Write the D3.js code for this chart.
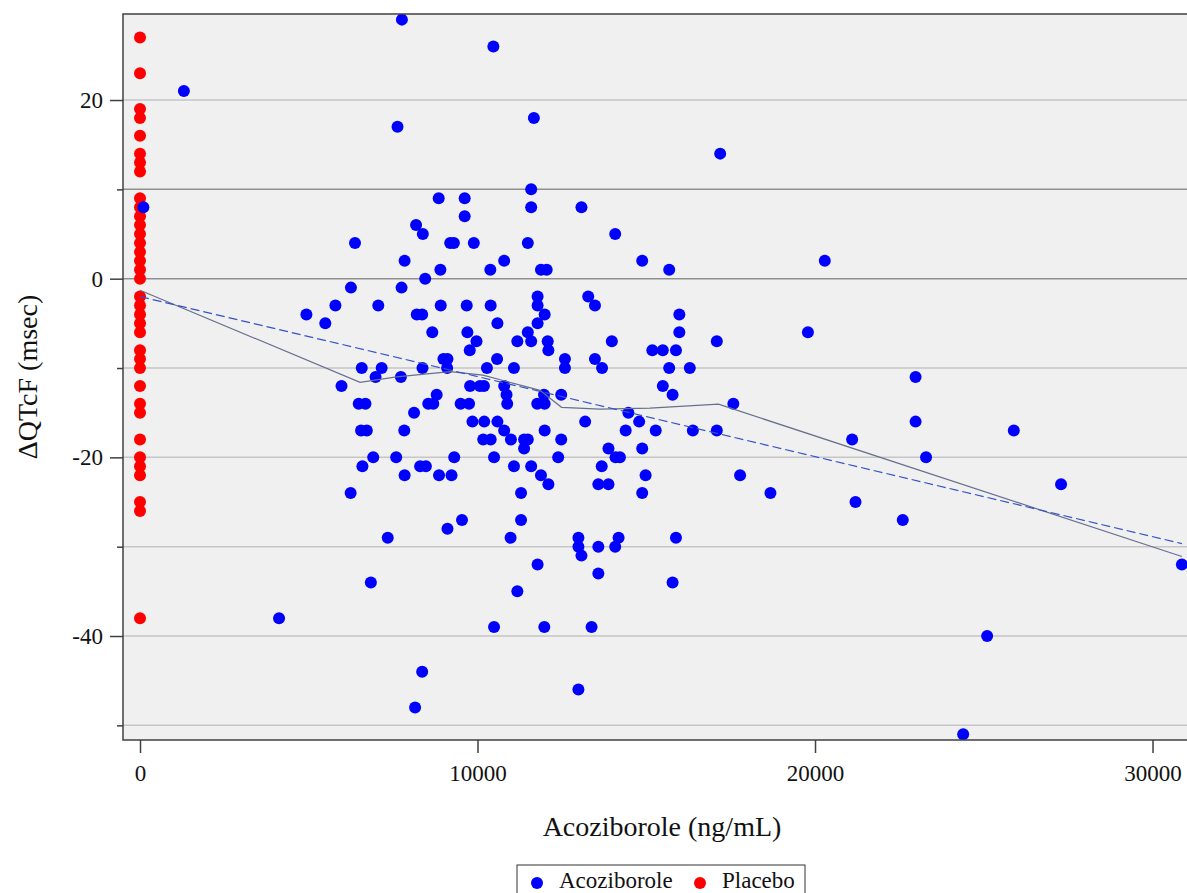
<!DOCTYPE html>
<html>
<head>
<meta charset="utf-8">
<script src="https://cdn.jsdelivr.net/npm/d3@7"></script>
<style>
  body { margin: 0; background: #fff; }
  text { font-family: "Liberation Serif", "Times New Roman", serif; fill: #111; }
</style>
</head>
<body>
<div id="my_dataviz"></div>
<script>
// Placebo: all at concentration 0, only dQTcF values
var placeboY = [27, 23, 19, 18, 16, 14, 13, 12, 9, 8, 7, 6, 5, 4, 3, 2, 1, 0,
    -2, -3, -4, -5, -6, -8, -9, -10, -12, -14, -15, -18, -20, -21, -22, -25, -26, -38];

// Acoziborole concentration (ng/mL)
var acoX = [1300, 7760, 10470, 7630, 11670, 17190, 100, 11590, 11590, 8850,
    9620, 9620, 8180, 8380, 6370, 9190, 9300, 9890, 11490, 7840,
    10790, 8900, 10380, 11880, 12050, 8450, 6250, 7750, 11780, 4930,
    5790, 5490, 7060, 8910, 9680, 10390, 11780, 8200, 8360, 11990,
    10590, 11780, 8660, 9700, 11490, 9970, 11180, 11590, 12080, 9770,
    12100, 8990, 9110, 10580, 9100, 6570, 7160, 8370, 10280, 11080,
    6980, 7730, 5970, 9780, 10070, 10190, 10790, 11970, 8790, 10860,
    6480, 6680, 8540, 8690, 9500, 9750, 10880, 11770, 11990, 8120,
    9850, 10200, 10590, 10790, 6550, 6720, 7830, 11990, 10170, 10390,
    10990, 11380, 11490, 11380, 6910, 7590, 9310, 10490, 6590, 8300,
    8470, 11080, 11590, 7840, 8860, 9230, 11880, 12100, 6240, 11290,
    9540, 11290, 9110, 7340, 10980, 11780, 6840, 11180, 4120, 10490,
    11980, 13080, 14080, 14880, 15680, 13280, 13480, 15980, 15980, 13980,
    17090, 15180, 15490, 15880, 12590, 13480, 12590, 13690, 15680, 16290,
    15490, 15780, 12480, 17580, 14470, 13190, 14790, 14390, 15280, 16380,
    17090, 12480, 13880, 14880, 12390, 14090, 14220, 13680, 14980, 17780,
    13580, 13880, 14880, 18680, 12990, 14180, 15880, 12990, 13580, 14080,
    13080, 13580, 15780, 13380, 12990, 8150, 8360, 20290, 19790, 22980,
    22980, 21100, 25890, 23290, 21200, 22600, 27290, 30870, 25100, 24390];

// Acoziborole dQTcF (msec), same order as acoX
var acoY = [21, 29, 26, 17, 18, 14, 8, 10, 8, 9,
    9, 7, 6, 5, 4, 4, 4, 4, 4, 2,
    2, 1, 1, 1, 1, 0, -1, -1, -2, -4,
    -3, -5, -3, -3, -3, -3, -3, -4, -4, -4,
    -5, -5, -6, -6, -6, -7, -7, -7, -7, -8,
    -8, -9, -9, -9, -10, -10, -10, -10, -10, -10,
    -11, -11, -12, -12, -12, -12, -12, -13, -13, -13,
    -14, -14, -14, -14, -14, -14, -14, -14, -14, -15,
    -16, -16, -16, -17, -17, -17, -17, -17, -18, -18,
    -18, -18, -18, -19, -20, -20, -20, -20, -21, -21,
    -21, -21, -21, -22, -22, -22, -22, -23, -24, -24,
    -27, -27, -28, -29, -29, -32, -34, -35, -38, -39,
    -39, 8, 5, 2, 1, -2, -3, -4, -6, -7,
    -7, -8, -8, -8, -9, -9, -10, -10, -10, -10,
    -12, -13, -13, -14, -15, -16, -16, -17, -17, -17,
    -17, -18, -19, -19, -20, -20, -20, -21, -22, -22,
    -23, -23, -24, -24, -29, -29, -29, -30, -30, -30,
    -31, -33, -34, -39, -46, -48, -44, 2, -6, -11,
    -16, -18, -17, -20, -25, -27, -23, -32, -40, -51];

// Smoothed (loess) curve nodes and linear fit end points
var smoothX = [0, 6520, 7600, 9190, 10160, 10760, 11850, 12490, 13630, 15110, 17140, 30870];
var smoothY = [-1.3, -11.6, -11.0, -10.4, -10.8, -11.4, -12.5, -14.4, -14.6, -14.5, -14.05, -31.1];
var fitX = [0, 30870];
var fitY = [-2.0, -29.65];

// Axis ticks
var yMajorTicks = [20, 0, -20, -40];
var yMinorTicks = [10, -10, -30, -50];
var xTicks = [0, 10000, 20000, 30000];

var seriesNames = ["Acoziborole", "Placebo"];
var seriesColors = ["#0000ff", "#ff0000"];

// Set the dimensions and margins of the graph
var margin = {top: 14, right: -13, bottom: 153, left: 123},
    width = 1187 - margin.left - margin.right,
    height = 893 - margin.top - margin.bottom;

var svgRoot = d3.select("#my_dataviz")
  .append("svg")
    .attr("width", 1187)
    .attr("height", 893);

var svg = svgRoot.append("g")
    .attr("transform", "translate(" + margin.left + "," + margin.top + ")");

// Scales
var x = d3.scaleLinear()
    .domain([-504, 31407])
    .range([0, width]);
var y = d3.scaleLinear()
    .domain([-51.64, 29.63])
    .range([height, 0]);

// Plot background
svg.append("rect")
    .attr("width", width)
    .attr("height", height)
    .attr("fill", "#f0f0f0");

svg.append("clipPath").attr("id", "clip")
  .append("rect").attr("width", width).attr("height", height);

// Grid lines
var gridTicks = yMajorTicks.concat(yMinorTicks);
svg.append("g").selectAll("line")
    .data(gridTicks)
    .enter().append("line")
    .attr("x1", 0)
    .attr("x2", width)
    .attr("y1", function(d) { return y(d); })
    .attr("y2", function(d) { return y(d); })
    .attr("stroke", function(d) { return (d === 0 || d === 10) ? "#909090" : "#c6c6c6"; })
    .attr("stroke-width", 1.5);

var plot = svg.append("g").attr("clip-path", "url(#clip)");

// Placebo points
plot.append("g").selectAll("circle")
    .data(placeboY)
    .enter().append("circle")
    .attr("cx", x(0))
    .attr("cy", function(d) { return y(d); })
    .attr("r", 6)
    .attr("fill", seriesColors[1]);

// Acoziborole points
var acoData = acoX.map(function(v, i) { return {x: v, y: acoY[i]}; });
plot.append("g").selectAll("circle")
    .data(acoData)
    .enter().append("circle")
    .attr("cx", function(d) { return x(d.x); })
    .attr("cy", function(d) { return y(d.y); })
    .attr("r", 6)
    .attr("fill", seriesColors[0]);

// Lines
var line = d3.line()
    .x(function(d) { return x(d[0]); })
    .y(function(d) { return y(d[1]); });

plot.append("path")
    .datum(smoothX.map(function(v, i) { return [v, smoothY[i]]; }))
    .attr("fill", "none")
    .attr("stroke", "#66708c")
    .attr("stroke-width", 1.2)
    .attr("d", line);

plot.append("path")
    .datum(fitX.map(function(v, i) { return [v, fitY[i]]; }))
    .attr("fill", "none")
    .attr("stroke", "#3451c8")
    .attr("stroke-width", 1.2)
    .attr("stroke-dasharray", "9,4")
    .attr("d", line);

// Frame
svg.append("rect")
    .attr("width", width)
    .attr("height", height)
    .attr("fill", "none")
    .attr("stroke", "#404040")
    .attr("stroke-width", 1.5);

// Plain hyphen for negatives, as in the original
var fmt = function(d) { return String(d); };

// Y axis
svg.append("g")
    .call(d3.axisLeft(y).tickValues(yMajorTicks).tickSize(13).tickPadding(7).tickFormat(fmt));
svg.append("g")
    .call(d3.axisLeft(y).tickValues(yMinorTicks).tickSize(6).tickFormat(""));

// X axis
svg.append("g")
    .attr("transform", "translate(0," + height + ")")
    .call(d3.axisBottom(x).tickValues(xTicks).tickSize(13).tickPadding(12).tickFormat(fmt));

svg.selectAll(".domain").remove();
svg.selectAll(".tick line").attr("stroke", "#404040").attr("stroke-width", 1.5);
svg.selectAll(".tick text")
    .style("font-family", "'Liberation Serif', 'Times New Roman', serif")
    .style("font-size", "23px")
    .attr("fill", "#111");

// Axis titles
svgRoot.append("text")
    .attr("x", 662)
    .attr("y", 836)
    .attr("text-anchor", "middle")
    .style("font-size", "28px")
    .text("Acoziborole (ng/mL)");

svgRoot.append("text")
    .attr("transform", "translate(37,377) rotate(-90)")
    .attr("text-anchor", "middle")
    .style("font-size", "28px")
    .text("ΔQTcF (msec)");

// Legend
var legend = svgRoot.append("g");
legend.append("rect")
    .attr("x", 517)
    .attr("y", 865)
    .attr("width", 288)
    .attr("height", 40)
    .attr("fill", "#fff")
    .attr("stroke", "#333")
    .attr("stroke-width", 1);

var legendX = [537, 700];
seriesNames.forEach(function(name, i) {
    legend.append("circle")
        .attr("cx", legendX[i])
        .attr("cy", 883)
        .attr("r", 6)
        .attr("fill", seriesColors[i]);
    legend.append("text")
        .attr("x", legendX[i] + 22)
        .attr("y", 888)
        .style("font-size", "23px")
        .text(name);
});
</script>
</body>
</html>
